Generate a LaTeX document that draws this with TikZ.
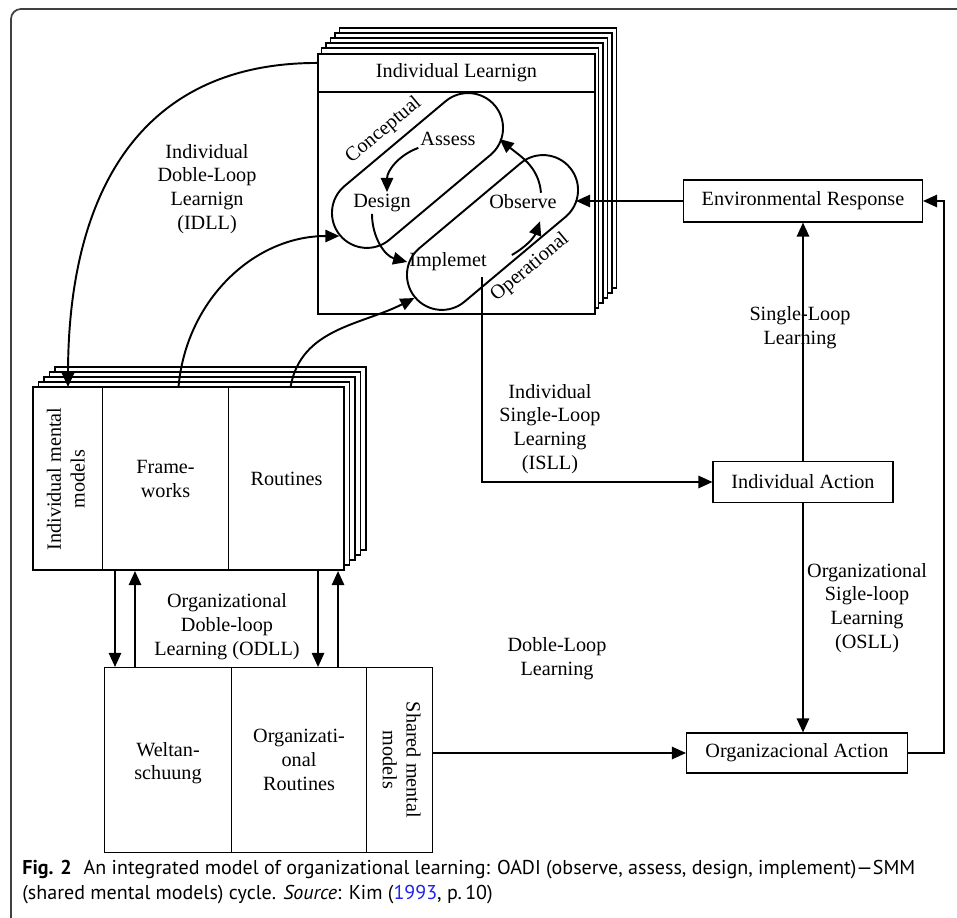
\documentclass[tikz,border=0pt]{standalone}
\usepackage{fontspec}
\setmainfont{Liberation Serif}
\newfontfamily\capfont{PT Sans}
\usetikzlibrary{arrows.meta}
\definecolor{linkblue}{RGB}{35,35,235}

\begin{document}
\begin{tikzpicture}[
      x = 0.02cm, y = -0.02cm,
      font = \fontsize{11.5}{13.6}\selectfont,
      box/.style = {
        rectangle,
        draw = black, line width = 0.6pt,
        align = center,
        inner sep = 0pt,
      },
      sheet/.style = {
        draw = black, line width = 1.1pt,
        fill = white,
      },
      capsule/.style = {
        rectangle,
        draw = black, line width = 1.1pt,
        minimum width = 4.04cm,
        minimum height = 1.4cm,
        rounded corners = 0.7cm,
        rotate = 40,
      },
      arr/.style = {
        -{Triangle[length = 8pt, width = 7pt]},
        line width = 1.1pt,
      },
      lbl/.style = {
        align = center,
        inner sep = 1pt,
      },
      frame/.style = {
        draw = black!75, line width = 1pt,
        rounded corners = 0.2cm,
      },
    ]
    \useasboundingbox (0,0) rectangle (957,918);
    \draw[frame] (957,9) -- (11,9) -- (11,918);

    \foreach \k in {5,4,...,1}
      \draw[sheet, shift = {(4.5*\k,-5*\k)}] (317,53) rectangle (594,313);
    \node[box, sheet, anchor = north west, minimum width = 5.54cm, minimum height = 5.2cm] (ilbox) at (317,53) {};
    \node[box, sheet, anchor = north west, minimum width = 5.54cm, minimum height = 0.76cm] (ilhead) at (317,53) {Individual Learnign};

    \node[capsule] (concept) at (417.5,170.5) {};
    \node[capsule] (opcap) at (492.5,232.5) {};
    \node[lbl, rotate = 40, anchor = south, inner sep = 4pt] (conlbl) at (concept.north) {Conceptual};
    \node[lbl, rotate = 40, anchor = north, inner sep = 3pt] (oplbl) at ([xshift = 0.1cm, yshift = 0.08cm]opcap.south) {Operational};
    \node[lbl] (assess) at (448,139) {Assess};
    \node[lbl] (design) at (382,203) {Design};
    \node[lbl] (observe) at (523,202) {Observe};
    \node[lbl] (implem) at (448,262) {Implemet};

    \foreach \k in {4,3,2,1}
      \draw[sheet, shift = {(5.5*\k,-5*\k)}] (33,387) rectangle (344,570);
    \draw[sheet] (33,387) rectangle (344,570);
    \node[box, anchor = north west, minimum width = 1.38cm, minimum height = 3.66cm] (imm) at (33,387)
      {\rotatebox{90}{\begin{tabular}{@{}c@{}}Individual mental\\models\end{tabular}}};
    \node[box, anchor = north west, minimum width = 2.52cm, minimum height = 3.66cm] (fw) at (102,387) {Frame-\\works};
    \node[box, anchor = north west, minimum width = 2.32cm, minimum height = 3.66cm] (rt) at (228,387) {Routines};

    \node[box, anchor = north west, minimum width = 2.54cm, minimum height = 3.7cm] (welt) at (104,667) {\\[-2pt]Weltan-\\schuung};
    \node[box, anchor = north west, minimum width = 2.7cm, minimum height = 3.7cm] (orgr) at (231,667) {Organizati-\\onal\\Routines};
    \node[box, anchor = north west, minimum width = 1.32cm, minimum height = 3.7cm] (smm) at (366,667)
      {\rotatebox{-90}{\begin{tabular}{@{}c@{}}Shared mental\\models\end{tabular}}};

    \node[box, minimum width = 4.78cm, minimum height = 0.84cm] (env) at (803,201) {Environmental Response};
    \node[box, minimum width = 3.6cm, minimum height = 0.82cm] (indact) at (803,482) {Individual Action};
    \node[box, minimum width = 4.42cm, minimum height = 0.8cm] (orgact) at (797,753) {Organizacional Action};

    \node[lbl] (idll) at (207,189) {Individual\\Doble-Loop\\Learnign\\(IDLL)};
    \node[lbl] (odll) at (227,627) {Organizational\\Doble-loop\\Learning (ODLL)};
    \node[lbl] (isll) at (550,429) {Individual\\Single-Loop\\Learning\\(ISLL)};
    \node[lbl] (osll) at (867,608) {Organizational\\Sigle-loop\\Learning\\(OSLL)};
    \node[lbl] (sll) at (800,328) {Single-Loop\\Learning};
    \node[lbl] (dll) at (557,659) {Doble-Loop\\Learning};

    \coordinate (isllstart) at (482,277);
    \coordinate (obsin) at (576,201);
    \coordinate (dl1) at ([xshift = 0.26cm]fw.south west);
    \coordinate (dl2) at ([xshift = 0.66cm]fw.south west);
    \coordinate (dl3) at ([xshift = -0.54cm]rt.south east);
    \coordinate (dl4) at ([xshift = -0.14cm]rt.south east);

    \draw[arr] (assess.south west) to[out = 200, in = 90] ([xshift = 0.1cm]design.north);
    \draw[arr] ([xshift = -0.2cm]design.south) to[out = -90, in = 165] (implem.west);
    \draw[arr] ([xshift = 0.46cm, yshift = 0.14cm]implem.east) to[out = 30, in = -110] ([xshift = 0.34cm, yshift = -0.2cm]observe.south);
    \draw[arr] ([xshift = 0.36cm]observe.north) to[out = 95, in = -40] ([xshift = 0.44cm]assess.east);

    \draw[arr] ([yshift = 0.2cm]ilhead.west) to[out = 180, in = 90, looseness = 1.15] (imm.north);
    \draw[arr] ([xshift = 0.26cm]fw.north) to[out = 85, in = 180] (concept.west);
    \draw[arr] ([xshift = 0.08cm]rt.north) to[out = 80, in = 207] (opcap.west);

    \draw[arr] (dl1) -- (dl1 |- welt.north);
    \draw[arr] (dl2 |- welt.north) -- (dl2);
    \draw[arr] (dl3) -- (dl3 |- orgr.north);
    \draw[arr] (dl4 |- orgr.north) -- (dl4);

    \draw[arr] (isllstart) |- (indact.west);
    \draw[arr] (env.west) -- (obsin);
    \draw[arr] (indact.north) -- (env.south);
    \draw[arr] (indact.south) -- (indact.south |- orgact.north);
    \draw[arr] (orgact.west -| smm.east) -- (orgact.west);
    \draw[arr] (orgact.east) -| ([xshift = 0.42cm]env.east) -- (env.east);

    \node[anchor = north west, align = left, inner sep = 0pt, font = \capfont\fontsize{11.4}{14}\selectfont] (caption) at (22,860)
      {\textbf{Fig. 2}\hspace{0.6em}An integrated model of organizational learning: OADI (observe, assess, design, implement)\textemdash SMM\\
       (shared mental models) cycle. \textit{Source}: Kim (\textcolor{linkblue}{1993}, p.\,10)};
  \end{tikzpicture}
\end{document}
